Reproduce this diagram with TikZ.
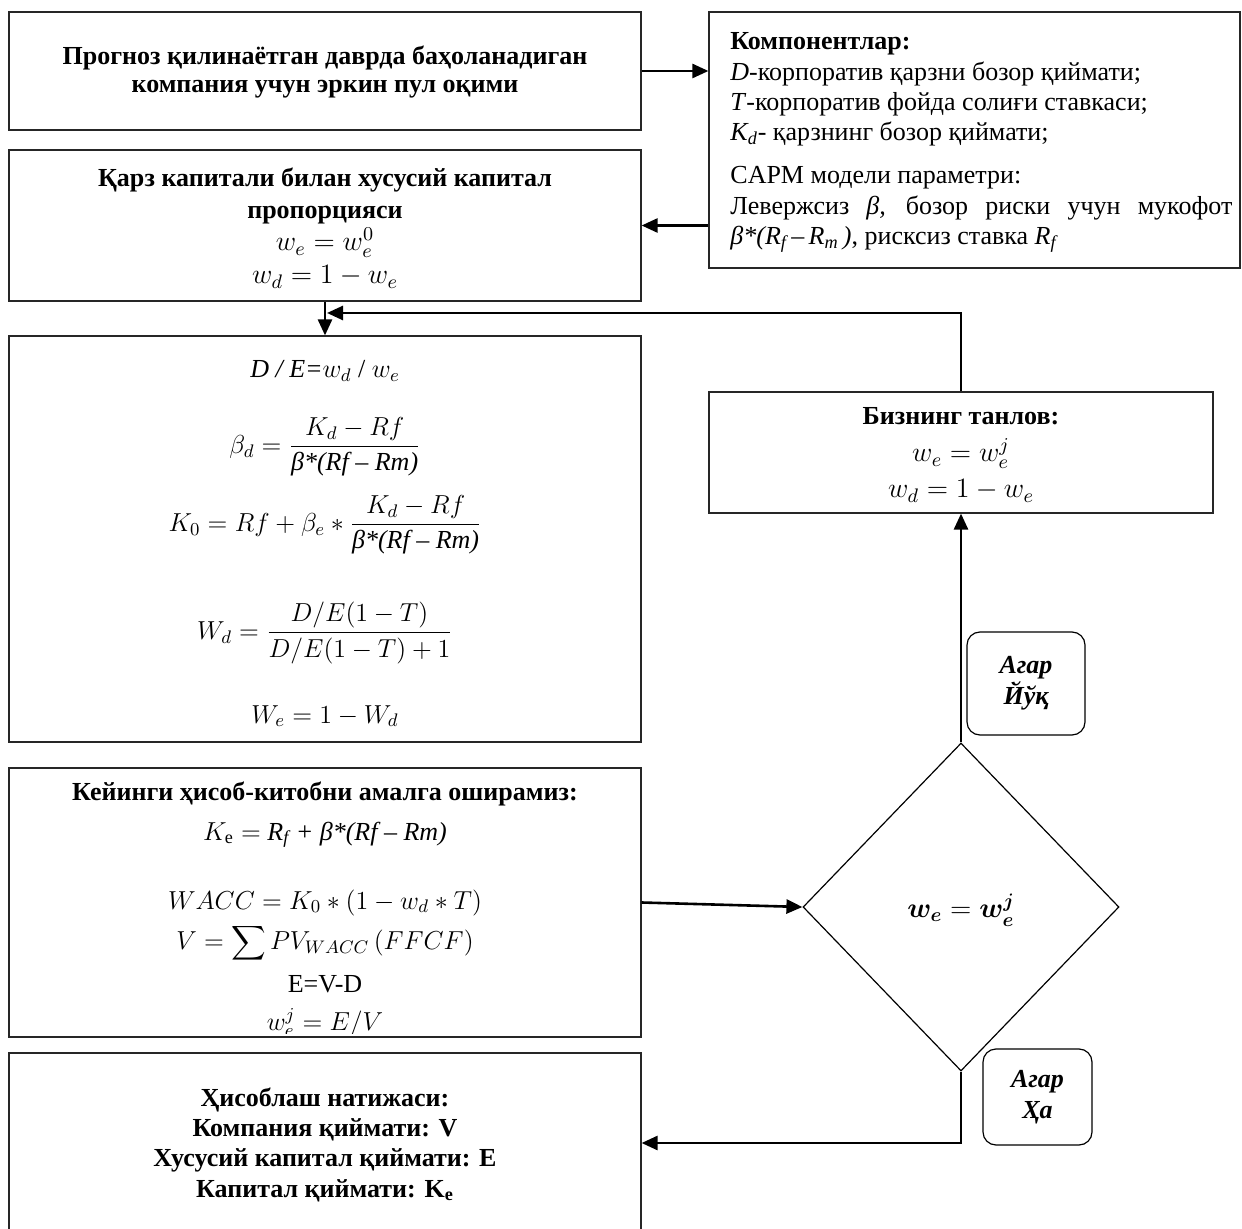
\RequirePackage{fix-cm}
\documentclass[tikz,border=0pt]{standalone}
\usepackage{amsmath}
\usepackage{fontspec}
\setmainfont{Liberation Serif}
\usetikzlibrary{arrows.meta,shapes.geometric,calc}
\begin{document}
\begin{tikzpicture}[x=0.5pt,y=-0.5pt,
  every node/.style={font=\fontsize{13}{15}\selectfont},
  frame/.style={draw=black!85,line width=0.6pt,rectangle,inner sep=0pt},
  txt/.style={inner sep=0pt,anchor=base},
  btxt/.style={inner sep=0pt,anchor=base,font=\fontsize{13}{15}\selectfont\bfseries},
  ltxt/.style={inner sep=0pt,anchor=base west},
  ctxt/.style={inner sep=0pt,anchor=center},
  lab/.style={draw,line width=0.6pt,rounded corners=6.5pt,inner sep=0pt,align=center,
              font=\fontsize{13}{15.5}\selectfont\bfseries\itshape},
  arr/.style={line width=1.3pt,-{Triangle[length=8pt,width=7pt]}}
]
\useasboundingbox (0,0) rectangle (1242,1229);

% boxes
\node[frame,minimum width=316pt,minimum height=59pt] (b1) at (325,71) {};
\node[frame,minimum width=265.5pt,minimum height=128pt] (comp) at (974.5,140) {};
\node[frame,minimum width=316pt,minimum height=75.5pt] (b2) at (325,225.5) {};
\node[frame,minimum width=316pt,minimum height=203pt] (b3) at (325,539) {};
\node[frame,minimum width=316pt,minimum height=134.5pt] (b4) at (325,902.5) {};
\node[frame,minimum width=316pt,minimum height=90pt] (b5) at (325,1143) {};
\node[frame,minimum width=252pt,minimum height=60.5pt] (choice) at (961,452.5) {};
\node[diamond,draw,line width=0.6pt,minimum width=158pt,minimum height=164pt,inner sep=0pt] (dec) at (961,907) {};
\node[lab,minimum width=59pt,minimum height=51.5pt] (no) at (1026,683.5) {Агар\\Йўқ};
\node[lab,minimum width=54.5pt,minimum height=48pt] (yes) at (1037.5,1097) {Агар\\Ҳа};

% box 1
\node[btxt] (t1a) at (325,65) {Прогноз қилинаётган даврда баҳоланадиган};
\node[btxt] (t1b) at (325,93) {компания учун эркин пул оқими};

% components
\node[ltxt] (c1) at (730,50) {\textbf{Компонентлар:}};
\node[ltxt] (c2) at (730,81) {\textit{D}-корпоратив қарзни бозор қиймати;};
\node[ltxt] (c3) at (730,111) {\textit{T}-корпоратив фойда солиғи ставкаси;};
\node[ltxt] (c4) at (730,141) {\textit{K\textsubscript{d}}- қарзнинг бозор қиймати;};
\node[ltxt] (c5) at (730,184) {CAPM модели параметри:};
\node[ltxt] (c6) at (730,215) {\makebox[251pt][s]{Левержсиз \textit{β,} бозор риски учун мукофот}};
\node[ltxt] (c7) at (730,245) {\textit{β*(R\textsubscript{f}\,–\,R\textsubscript{m}\,)}, рисксиз ставка \textit{R\textsubscript{f}}};

% box 2
\node[btxt] (t2a) at (325,187) {Қарз капитали билан хусусий капитал};
\node[btxt] (t2b) at (325,219) {пропорцияси};
\node[txt,font=\fontsize{14}{16}\selectfont] (t2c) at (325,251) {$w_e = w_e^{0}$};
\node[txt,font=\fontsize{14}{16}\selectfont] (t2d) at (325,284) {$w_d = 1 - w_e$};

% box 3
\node[txt] (f1) at (325,378) {\textit{D / E=}$w_d$ / $w_e$};
\node[ctxt] (f2) at (325,447) {$\beta_d = \dfrac{K_d - Rf}{\text{\itshape β*(Rf – Rm)}}$};
\node[ctxt] (f3) at (325,525) {$K_0 = Rf + \beta_e * \dfrac{K_d - Rf}{\text{\itshape β*(Rf – Rm)}}$};
\node[ctxt] (f4) at (325,633) {$W_d = \dfrac{D/E(1-T)}{D/E(1-T)+1}$};
\node[txt] (f5) at (325,723) {$W_e = 1 - W_d$};

% box 4
\node[btxt] (t4a) at (325,800) {Кейинги ҳисоб-китобни амалга оширамиз:};
\node[txt] (t4b) at (325,840) {$K_{\mathrm{e}} =$ \textit{R\textsubscript{f} + β*(Rf – Rm)}};
\node[txt] (t4c) at (325,909) {$WACC = K_0 * (1 - w_d * T)$};
\node[ctxt] (t4d) at (325,943) {$\displaystyle V = \sum PV_{WACC}\,(FFCF)$};
\node[txt] (t4e) at (325,992) {E=V-D};
\begin{scope}
\clip (9,768) rectangle (641,1033);
\node[txt] (t4f) at (325,1030) {$w_e^{j} = E/V$};
\end{scope}

% box 5
\node[btxt] (t5a) at (325,1106) {Ҳисоблаш натижаси:};
\node[btxt] (t5b) at (325,1136) {Компания қиймати: V};
\node[btxt] (t5c) at (325,1166) {Хусусий капитал қиймати: E};
\node[btxt] (t5d) at (325,1197) {Капитал қиймати: K\textsubscript{e}};

% choice
\node[btxt] (ca) at (961,425) {Бизнинг танлов:};
\node[txt,font=\fontsize{14}{16}\selectfont] (cb) at (961,462) {$w_e = w_e^{j}$};
\node[txt,font=\fontsize{14}{16}\selectfont] (cc) at (961,498) {$w_d = 1 - w_e$};

% decision text
\node[ctxt,font=\fontsize{14}{16}\selectfont] (dect) at (961,910) {$\boldsymbol{w_e} = \boldsymbol{w_e^{j}}$};

% connectors
\coordinate (fb) at (327,313);
\draw[arr] (b1.east) -- (comp.west |- b1.east);
\draw[arr] (comp.west |- b2.east) -- (b2.east);
\draw[arr] (b2.south) -- (b3.north);
\draw[arr] (choice.north) |- (fb);
\draw[arr] (dec.north) -- (choice.south);
\draw[arr] (b4.east) -- (dec.west);
\draw[arr] (dec.south) |- (b5.east);
\end{tikzpicture}
\end{document}
